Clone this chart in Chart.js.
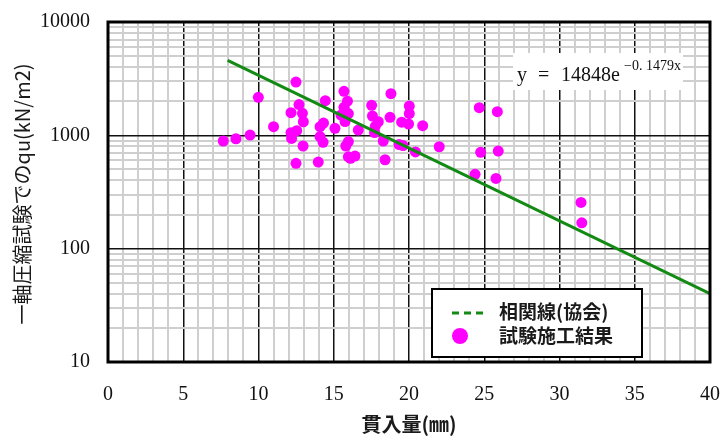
<!DOCTYPE html>
<html>
<head>
<meta charset="utf-8">
<script src="https://cdn.jsdelivr.net/npm/chart.js@4"></script>
<style>
  body { margin: 0; background: #fff; }
  canvas { display: block; }
</style>
</head>
<body>
<canvas id="chart" width="721" height="437"></canvas>
<script>
// 試験施工結果 (貫入量 mm, qu kN/m2)
const testX = [7.66, 8.50, 9.44, 9.99, 11.0, 12.49, 12.69, 12.16, 12.92, 12.98,
    12.16, 12.54, 12.20, 12.96, 12.49, 14.44, 14.32, 14.09, 14.09, 14.29,
    13.97, 15.08, 15.68, 15.91, 15.68, 15.97, 15.48, 15.75, 15.97, 15.80,
    15.97, 16.41, 16.11, 16.63, 17.52, 17.57, 17.96, 17.76, 17.71, 18.29,
    18.41, 18.80, 18.74, 19.51, 20.02, 20.02, 19.97, 19.34, 19.60, 20.43,
    20.91, 22.01, 24.67, 25.87, 24.76, 25.93, 24.39, 25.78, 31.43, 31.48];
const testY = [891, 933, 1006, 2163, 1191, 2953, 1870, 1583, 1563, 1318,
    1054, 1098, 940, 805, 566, 2020, 1284, 1191, 976, 869,
    581, 1153, 2445, 2000, 1767, 1556, 1510, 1324, 881, 805,
    647, 656, 627, 1113, 1840, 1481, 1318, 1200, 1059, 891,
    609, 2330, 1442, 1305, 1814, 1556, 1259, 830, 813, 713,
    1216, 793, 1752, 1616, 708, 727, 453, 417, 256, 169];

// 相関線(協会) y = 14848e^(-0.1479x), 端点
const fitX = [7.95, 40];
const fitY = [4580, 40.1];

const xMajorTicks = [0, 5, 10, 15, 20, 25, 30, 35, 40];
const yMajorTicks = [10, 100, 1000, 10000];
const yTicks = [];
[10, 100, 1000].forEach(d => { for (let m = 1; m < 10; m++) yTicks.push(d * m); });
yTicks.push(10000);

const MAJOR = '#111111';
const MINOR = '#cfcfcf';
const SERIF = '"Liberation Serif", "DejaVu Serif", serif';
const JP = '"Noto Sans CJK JP", sans-serif';

const overlay = {
    id: 'overlay',
    afterDraw(chart) {
        const ctx = chart.ctx;
        const a = chart.chartArea;
        ctx.save();
        // frame
        ctx.strokeStyle = '#000';
        ctx.lineWidth = 3;
        ctx.strokeRect(a.left, a.top, a.right - a.left, a.bottom - a.top);

        // y axis title
        ctx.save();
        ctx.translate(22, 194);
        ctx.rotate(-Math.PI / 2);
        ctx.fillStyle = '#1a1a1a';
        ctx.font = '20px ' + JP;
        ctx.textAlign = 'center';
        ctx.textBaseline = 'middle';
        ctx.fillText('一軸圧縮試験でのqu(kN/m2)', 0, 0);
        ctx.restore();

        // equation
        ctx.fillStyle = '#fff';
        ctx.fillRect(513, 53, 170, 37);
        ctx.fillStyle = '#111';
        ctx.textBaseline = 'alphabetic';
        ctx.textAlign = 'left';
        ctx.font = '20px ' + SERIF;
        ctx.fillText('y', 517, 81);
        ctx.fillText('=', 538, 81);
        ctx.fillText('14848e', 561, 81);
        ctx.font = '14px ' + SERIF;
        ctx.fillText('\u22120. 1479x', 624, 70);

        // legend
        ctx.fillStyle = '#fff';
        ctx.fillRect(432, 289, 210, 68);
        ctx.strokeStyle = '#000';
        ctx.lineWidth = 2;
        ctx.strokeRect(432, 289, 210, 68);
        ctx.strokeStyle = '#138a13';
        ctx.lineWidth = 3;
        ctx.setLineDash([7, 5]);
        ctx.beginPath();
        ctx.moveTo(452, 313);
        ctx.lineTo(485, 313);
        ctx.stroke();
        ctx.setLineDash([]);
        ctx.fillStyle = '#ff00ff';
        ctx.beginPath();
        ctx.arc(460, 336, 8, 0, Math.PI * 2);
        ctx.fill();
        ctx.fillStyle = '#1a1a1a';
        ctx.font = 'bold 19px ' + JP;
        ctx.textBaseline = 'middle';
        ctx.fillText('相関線(協会)', 499, 312);
        ctx.fillText('試験施工結果', 499, 336);
        ctx.restore();
    }
};

new Chart(document.getElementById('chart'), {
    type: 'scatter',
    data: {
        datasets: [
            {
                label: '相関線(協会)',
                type: 'line',
                data: fitX.map((x, i) => ({ x: x, y: fitY[i] })),
                borderColor: '#138a13',
                borderWidth: 3,
                pointRadius: 0,
                fill: false,
                order: 0
            },
            {
                label: '試験施工結果',
                data: testX.map((x, i) => ({ x: x, y: testY[i] })),
                backgroundColor: '#ff00ff',
                borderWidth: 0,
                pointRadius: 5.5,
                order: 1
            }
        ]
    },
    options: {
        responsive: false,
        animation: false,
        layout: { padding: { top: 22, right: 11, left: 0, bottom: 0 } },
        plugins: {
            legend: { display: false },
            tooltip: { enabled: false }
        },
        scales: {
            x: {
                type: 'linear',
                min: 0,
                max: 40,
                afterFit: s => { s.height = 75; s.paddingLeft = 0; s.paddingRight = 0; },
                ticks: {
                    stepSize: 1,
                    autoSkip: false,
                    maxRotation: 0,
                    padding: 21,
                    color: '#111',
                    font: { family: SERIF, size: 20 },
                    callback: v => xMajorTicks.includes(v) ? String(v) : ''
                },
                grid: {
                    drawTicks: false,
                    color: c => xMajorTicks.includes(c.tick.value) ? MAJOR : MINOR,
                    lineWidth: c => xMajorTicks.includes(c.tick.value) ? 1.5 : 2
                },
                border: { display: false },
                title: {
                    display: true,
                    text: '貫入量(㎜)',
                    color: '#1a1a1a',
                    font: { family: JP, size: 20, weight: 'bold' },
                    padding: { top: 1, bottom: 1 }
                }
            },
            y: {
                type: 'logarithmic',
                min: 10,
                max: 10000,
                afterFit: s => { s.width = 108; s.paddingTop = 0; s.paddingBottom = 0; },
                afterBuildTicks: s => { s.ticks = yTicks.map(v => ({ value: v })); },
                ticks: {
                    autoSkip: false,
                    padding: 18,
                    color: '#111',
                    font: { family: SERIF, size: 20 },
                    callback: v => yMajorTicks.includes(v) ? String(v) : ''
                },
                grid: {
                    drawTicks: false,
                    color: c => yMajorTicks.includes(c.tick.value) ? MAJOR : MINOR,
                    lineWidth: c => yMajorTicks.includes(c.tick.value) ? 1.5 : 2
                },
                border: { display: false },
                title: { display: false }
            }
        }
    },
    plugins: [overlay]
});
</script>
</body>
</html>
